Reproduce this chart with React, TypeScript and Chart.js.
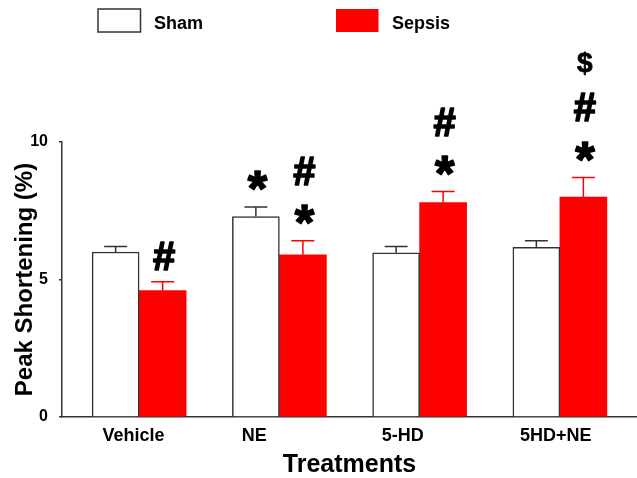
import React, { useEffect, useRef } from "react";
import { Chart, registerables } from "chart.js";

Chart.register(...registerables);

// ---- data ----
const categories = ["Vehicle", "NE", "5-HD", "5HD+NE"];
const seriesNames = ["Sham", "Sepsis"];
const shamValues = [6.0, 7.29, 5.97, 6.17];
const shamSem = [0.2, 0.35, 0.23, 0.24];
const sepsisValues = [4.6, 5.9, 7.8, 8.0];
const sepsisSem = [0.32, 0.51, 0.4, 0.71];
// significance marks, listed bottom to top
const shamMarks = ["", "*", "", ""];
const sepsisMarks = ["#", "*#", "*#", "*#$"];
const yTicks = [0, 5, 10];

// ---- style ----
const FONT = "'Liberation Sans', Arial, Helvetica, sans-serif";
const AXIS = "#333333";
const RED = "#ff0000";
const LABEL_SHIFT = [-0.04, -0.18, -0.12, -0.03];

const errorAndMarks = {
  id: "errorAndMarks",
  afterDatasetsDraw(chart: any) {
    const ctx = chart.ctx;
    const yScale = chart.scales.y;
    const sems = [shamSem, sepsisSem];
    const marks = [shamMarks, sepsisMarks];
    const colors = [AXIS, RED];
    chart.data.datasets.forEach((ds: any, di: number) => {
      const meta = chart.getDatasetMeta(di);
      meta.data.forEach((el: any, j: number) => {
        const v = ds.data[j].y;
        const top = yScale.getPixelForValue(v + sems[di][j]);
        const x = el.x;
        ctx.save();
        ctx.strokeStyle = colors[di];
        ctx.lineWidth = 1.5;
        ctx.beginPath();
        ctx.moveTo(x, el.y);
        ctx.lineTo(x, top);
        ctx.moveTo(x - 11.5, top);
        ctx.lineTo(x + 11.5, top);
        ctx.stroke();
        const m = marks[di][j];
        for (let k = 0; k < m.length; k++) {
          const ch = m[k];
          const size = ch === "*" ? 50 : ch === "#" ? 40 : 28;
          ctx.font = `bold ${size}px ${FONT}`;
          ctx.fillStyle = "#000";
          ctx.strokeStyle = "#000";
          ctx.lineWidth = ch === "$" ? 0.8 : 1.6;
          ctx.lineJoin = "round";
          ctx.textAlign = "center";
          ctx.textBaseline = "alphabetic";
          const mt = ctx.measureText(ch);
          const cy = top - 26 - k * 44;
          const by = cy + (mt.actualBoundingBoxAscent - mt.actualBoundingBoxDescent) / 2;
          ctx.fillText(ch, x + 1.5, by);
          ctx.strokeText(ch, x + 1.5, by);
        }
        ctx.restore();
      });
    });
  },
};

const legendBoxes = {
  id: "legendBoxes",
  afterDraw(chart: any) {
    const ctx = chart.ctx;
    const items = [
      { x: 98, text: seriesNames[0], fill: "#ffffff", stroke: AXIS },
      { x: 336, text: seriesNames[1], fill: RED, stroke: null },
    ];
    ctx.save();
    items.forEach((it) => {
      ctx.fillStyle = it.fill;
      ctx.fillRect(it.x, 9, 42.5, 23);
      if (it.stroke) {
        ctx.strokeStyle = it.stroke;
        ctx.lineWidth = 1.5;
        ctx.strokeRect(it.x, 9, 42.5, 23);
      }
      ctx.fillStyle = "#000";
      ctx.font = `bold 18px ${FONT}`;
      ctx.textAlign = "left";
      ctx.textBaseline = "middle";
      ctx.fillText(it.text, it.x + 56, 24.5);
    });
    ctx.restore();
  },
};

export default function App() {
  const ref = useRef<HTMLCanvasElement | null>(null);

  useEffect(() => {
    if (!ref.current) return;
    const chart = new Chart(ref.current, {
      type: "bar",
      data: {
        datasets: [
          {
            label: seriesNames[0],
            data: shamValues.map((v, i) => ({ x: i, y: v })),
            backgroundColor: "#ffffff",
            borderColor: AXIS,
            borderWidth: 1.5,
            barThickness: 47,
          },
          {
            label: seriesNames[1],
            data: sepsisValues.map((v, i) => ({ x: i, y: v })),
            backgroundColor: RED,
            borderWidth: 0,
            barThickness: 47,
          },
        ],
      },
      options: {
        responsive: false,
        animation: false,
        layout: { padding: { top: 142, left: 0, right: 0, bottom: 0 } },
        plugins: { legend: { display: false }, tooltip: { enabled: false } },
        scales: {
          x: {
            type: "linear",
            min: -0.55,
            max: 3.55,
            offset: false,
            afterBuildTicks: (s: any) => {
              s.ticks = categories.map((_, i) => ({ value: i + LABEL_SHIFT[i] }));
            },
            afterFit: (s: any) => {
              s.height = 61;
            },
            ticks: {
              callback: (_v: any, i: number) => categories[i],
              color: "#000",
              font: { family: FONT, size: 18, weight: "bold" },
              padding: 8,
              maxRotation: 0,
              autoSkip: false,
            },
            grid: { display: false, drawTicks: false, offset: false },
            border: { display: true, color: AXIS, width: 1.5 },
            title: {
              display: true,
              text: "Treatments",
              color: "#000",
              font: { family: FONT, size: 25, weight: "bold", lineHeight: 1 },
              padding: { top: 0, bottom: 0 },
            },
          },
          y: {
            min: 0,
            max: 10,
            afterBuildTicks: (s: any) => {
              s.ticks = yTicks.map((v) => ({ value: v }));
            },
            afterFit: (s: any) => {
              s.width = 62;
            },
            ticks: {
              color: "#000",
              font: { family: FONT, size: 16, weight: "bold" },
              padding: 11,
            },
            grid: {
              drawOnChartArea: false,
              drawTicks: true,
              tickLength: 3,
              color: AXIS,
              lineWidth: 1.5,
            },
            border: { display: true, color: AXIS, width: 1.5 },
            title: {
              display: true,
              text: "Peak Shortening (%)",
              color: "#000",
              font: { family: FONT, size: 24, weight: "bold", lineHeight: 1.2 },
              padding: { top: 11, bottom: 0 },
            },
          },
        },
      } as any,
      plugins: [errorAndMarks, legendBoxes],
    });
    return () => chart.destroy();
  }, []);

  return (
    <div style={{ position: "absolute", left: 0, top: 0, width: 637, height: 478, background: "#fff" }}>
      <canvas ref={ref} width={637} height={478} style={{ width: 637, height: 478, display: "block" }} />
    </div>
  );
}
